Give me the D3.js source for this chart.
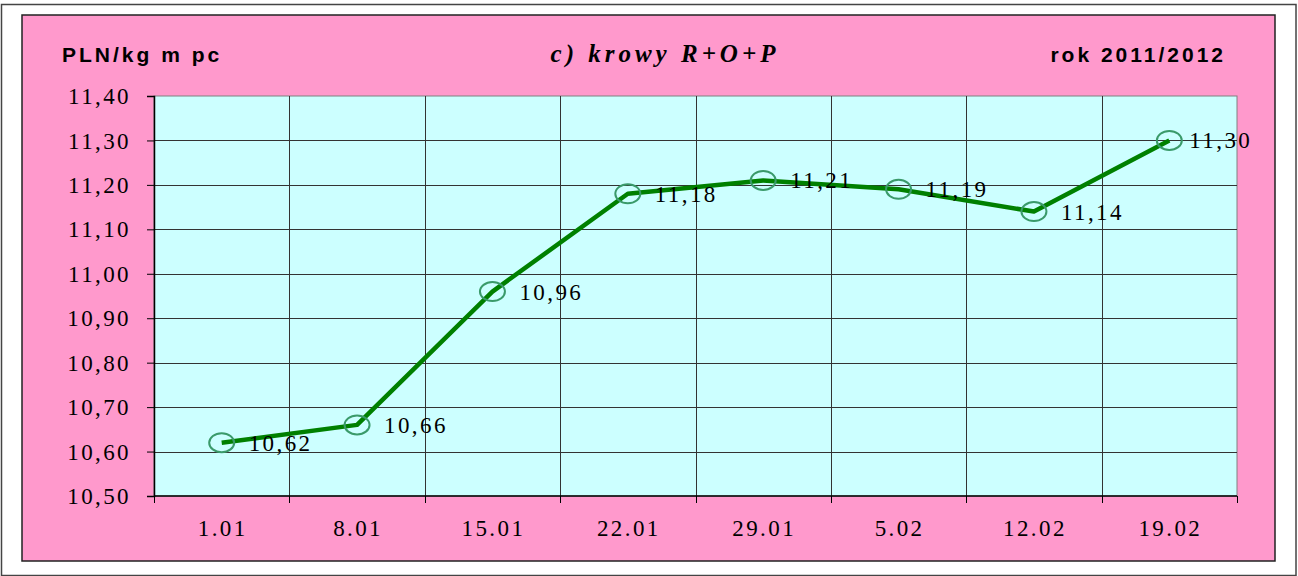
<!DOCTYPE html>
<html lang="pl">
<head>
	<meta charset="UTF-8">
	<title>krowy R+O+P</title>
	<style>
		body { margin: 0; background: #fff; }
		.serif { font-family: "Liberation Serif", "Times New Roman", Times, "DejaVu Serif", serif; }
		.sans { font-family: "Liberation Sans", Arial, Helvetica, sans-serif; }
	</style>
</head>
<body>
	<svg width="1298" height="576"></svg>

	<script src="https://d3js.org/d3.v7.min.js"></script>
	<script>
		// dane
		var dates = ["1.01", "8.01", "15.01", "22.01", "29.01", "5.02", "12.02", "19.02"];
		var prices = [10.62, 10.66, 10.96, 11.18, 11.21, 11.19, 11.14, 11.30];
		var yTicks = [10.50, 10.60, 10.70, 10.80, 10.90, 11.00, 11.10, 11.20, 11.30, 11.40];

		var svg = d3.select("svg");
		var plot = {left: 154, top: 96, right: 1237, bottom: 496};

		var fmt = function(v){ return d3.format(".2f")(v).replace(".", ","); };

		// ramka zewnetrzna
		svg.append("rect")
			.attr("x", 1.5).attr("y", 4.5)
			.attr("width", 1294.5).attr("height", 571)
			.attr("fill", "#fff")
			.attr("stroke", "#444").attr("stroke-width", 1.5);

		// tlo rozowe
		svg.append("rect")
			.attr("x", 22).attr("y", 15)
			.attr("width", 1253).attr("height", 546)
			.attr("fill", "#ff99cc")
			.attr("stroke", "#222").attr("stroke-width", 1.5);

		// obszar wykresu
		svg.append("rect")
			.attr("x", plot.left).attr("y", plot.top)
			.attr("width", plot.right - plot.left).attr("height", plot.bottom - plot.top)
			.attr("fill", "#ccffff")
			.attr("stroke", "#808080").attr("stroke-width", 1);

		var x = d3.scaleBand()
			.domain(dates)
			.range([plot.left, plot.right])
			.padding(0);

		var y = d3.scaleLinear()
			.domain([10.5, 11.4])
			.range([plot.bottom, plot.top]);

		// siatka pozioma
		svg.append("g")
			.selectAll("line")
			.data(yTicks.slice(1, -1))
			.enter().append("line")
			.attr("x1", plot.left).attr("x2", plot.right)
			.attr("y1", function(d){ return Math.round(y(d)) + 0.5; })
			.attr("y2", function(d){ return Math.round(y(d)) + 0.5; })
			.attr("stroke", "#333").attr("stroke-width", 1);

		// siatka pionowa
		svg.append("g")
			.selectAll("line")
			.data(dates.slice(1))
			.enter().append("line")
			.attr("x1", function(d){ return Math.round(x(d)) + 0.5; })
			.attr("x2", function(d){ return Math.round(x(d)) + 0.5; })
			.attr("y1", plot.top).attr("y2", plot.bottom)
			.attr("stroke", "#333").attr("stroke-width", 1);

		// os Y
		var yAxis = d3.axisLeft(y)
			.tickValues(yTicks)
			.tickSize(7)
			.tickPadding(19)
			.tickFormat(fmt);

		var gy = svg.append("g")
			.attr("transform", "translate(" + plot.left + ",0)")
			.call(yAxis);
		gy.attr("font-family", null).attr("font-size", null);
		gy.select(".domain").attr("stroke", "#000").attr("stroke-width", 1.5);
		gy.selectAll(".tick line").attr("stroke", "#000");
		gy.selectAll(".tick text")
			.attr("class", "serif")
			.attr("fill", "#000")
			.style("font-size", "23px")
			.style("letter-spacing", "2.4px")
			.attr("dy", "0.33em")
			.attr("dx", "3px");

		// os X - znaczniki na granicach kategorii
		var xAxisLine = svg.append("g");
		xAxisLine.append("line")
			.attr("x1", plot.left).attr("x2", plot.right)
			.attr("y1", plot.bottom).attr("y2", plot.bottom)
			.attr("stroke", "#000").attr("stroke-width", 1.5);
		xAxisLine.selectAll(".xt")
			.data(dates.concat(["end"]))
			.enter().append("line")
			.attr("x1", function(d, i){ return Math.round(plot.left + i * x.bandwidth()) + 0.5; })
			.attr("x2", function(d, i){ return Math.round(plot.left + i * x.bandwidth()) + 0.5; })
			.attr("y1", plot.bottom).attr("y2", plot.bottom + 7)
			.attr("stroke", "#000");

		svg.append("g")
			.selectAll("text")
			.data(dates)
			.enter().append("text")
			.attr("class", "serif")
			.attr("x", function(d){ return x(d) + x.bandwidth() / 2 + 1; })
			.attr("y", 536)
			.attr("text-anchor", "middle")
			.style("font-size", "23px")
			.style("letter-spacing", "2.4px")
			.text(function(d){ return d; });

		// linia
		var line = d3.line()
			.x(function(d, i){ return x(dates[i]) + x.bandwidth() / 2; })
			.y(function(d){ return y(d); });

		svg.append("path")
			.datum(prices)
			.attr("d", line)
			.attr("fill", "none")
			.attr("stroke", "#008000")
			.attr("stroke-width", 4.5)
			.attr("stroke-linejoin", "round");

		// znaczniki
		svg.append("g")
			.selectAll("ellipse")
			.data(prices)
			.enter().append("ellipse")
			.attr("cx", function(d, i){ return x(dates[i]) + x.bandwidth() / 2; })
			.attr("cy", function(d){ return y(d); })
			.attr("rx", 12.5).attr("ry", 9.5)
			.attr("fill", "none")
			.attr("stroke", "#3a9a6a")
			.attr("stroke-width", 2);

		// etykiety danych
		svg.append("g")
			.selectAll("text")
			.data(prices)
			.enter().append("text")
			.attr("class", "serif")
			.attr("x", function(d, i){ return x(dates[i]) + x.bandwidth() / 2 + (i === prices.length - 1 ? 20 : 27); })
			.attr("y", function(d){ return y(d); })
			.attr("dy", "0.35em")
			.style("font-size", "23px")
			.style("letter-spacing", "2.4px")
			.text(fmt);

		// tytuly
		svg.append("text")
			.attr("class", "sans")
			.attr("x", 62).attr("y", 62)
			.style("font-weight", "bold")
			.style("font-size", "21px")
			.style("letter-spacing", "3px")
			.text("PLN/kg m pc");

		svg.append("text")
			.attr("class", "serif")
			.attr("x", 665).attr("y", 62)
			.attr("text-anchor", "middle")
			.style("font-weight", "bold")
			.style("font-style", "italic")
			.style("font-size", "25px")
			.style("letter-spacing", "4px")
			.text("c) krowy R+O+P");

		svg.append("text")
			.attr("class", "sans")
			.attr("x", 1226).attr("y", 62)
			.attr("text-anchor", "end")
			.style("font-weight", "bold")
			.style("font-size", "21px")
			.style("letter-spacing", "3px")
			.text("rok 2011/2012");
	</script>
</body>
</html>
